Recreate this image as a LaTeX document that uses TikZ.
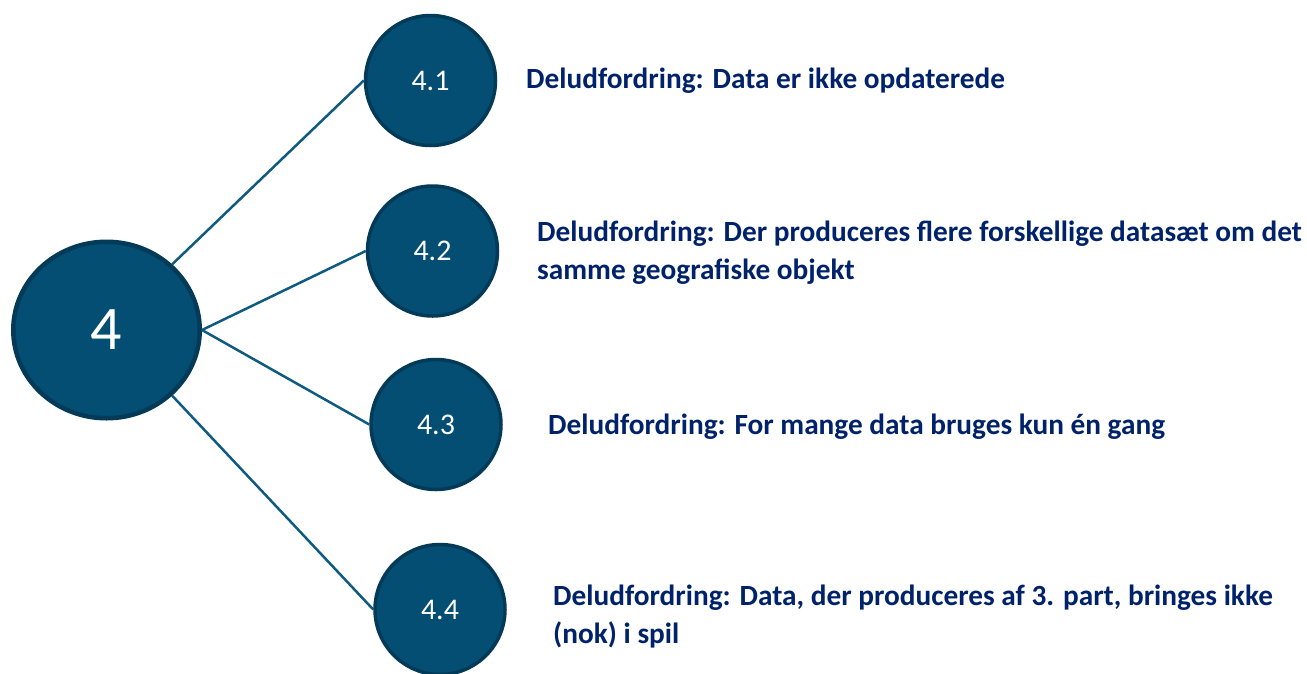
\documentclass[tikz,border=0pt]{standalone}
\usepackage{fontspec}
\setmainfont{Carlito}
\usetikzlibrary{shapes.geometric,backgrounds}
\definecolor{circfill}{HTML}{034E72}
\definecolor{circdraw}{HTML}{023A58}
\definecolor{linkcol}{HTML}{0E5A80}
\definecolor{txtcol}{HTML}{00226A}
\tikzset{
  bigcirc/.style={ellipse, fill=circfill, draw=circdraw, line width=4.5pt,
    minimum width=186.5pt, minimum height=176.5pt, inner sep=0pt, text=white,
    font=\fontsize{62}{64}\selectfont},
  subcirc/.style={circle, fill=circfill, draw=circdraw, line width=3.5pt,
    minimum size=130pt, inner sep=0pt, text=white,
    font=\fontsize{30}{32}\selectfont},
  link/.style={draw=linkcol, line width=2.5pt},
  label/.style={anchor=base west, align=left, inner sep=0pt, text=txtcol,
    font=\bfseries\fontsize{29.3}{38}\selectfont},
}
\begin{document}
\begin{tikzpicture}[x=1pt,y=-1pt]
\useasboundingbox (0,0) rectangle (1307,673);
\node[bigcirc] (big) at (106.5,330) {4};
\node[subcirc] (c1) at (430.5,80.5) {4.1};
\node[subcirc] (c2) at (432.5,251) {4.2};
\node[subcirc] (c3) at (436,424.5) {4.3};
\node[subcirc] (c4) at (440,609.5) {4.4};
\begin{scope}[on background layer]
\draw[link] (big.45) -- (c1.west);
\draw[link] (big.east) -- (c2.west);
\draw[link] (big.east) -- (c3.west);
\draw[link] (big.-45) -- (c4.west);
\end{scope}
\node[label] (t1) at (526,88) {Deludfordring: Data er ikke opdaterede};
\node[label] (t2) at (537,279) {Deludfordring: Der produceres flere forskellige datasæt om det\\samme geografiske objekt};
\node[label] (t3) at (548,434) {Deludfordring: For mange data bruges kun én gang};
\node[label] (t4) at (553,643) {Deludfordring: Data, der produceres af 3. part, bringes ikke\\(nok) i spil};
\end{tikzpicture}
\end{document}
